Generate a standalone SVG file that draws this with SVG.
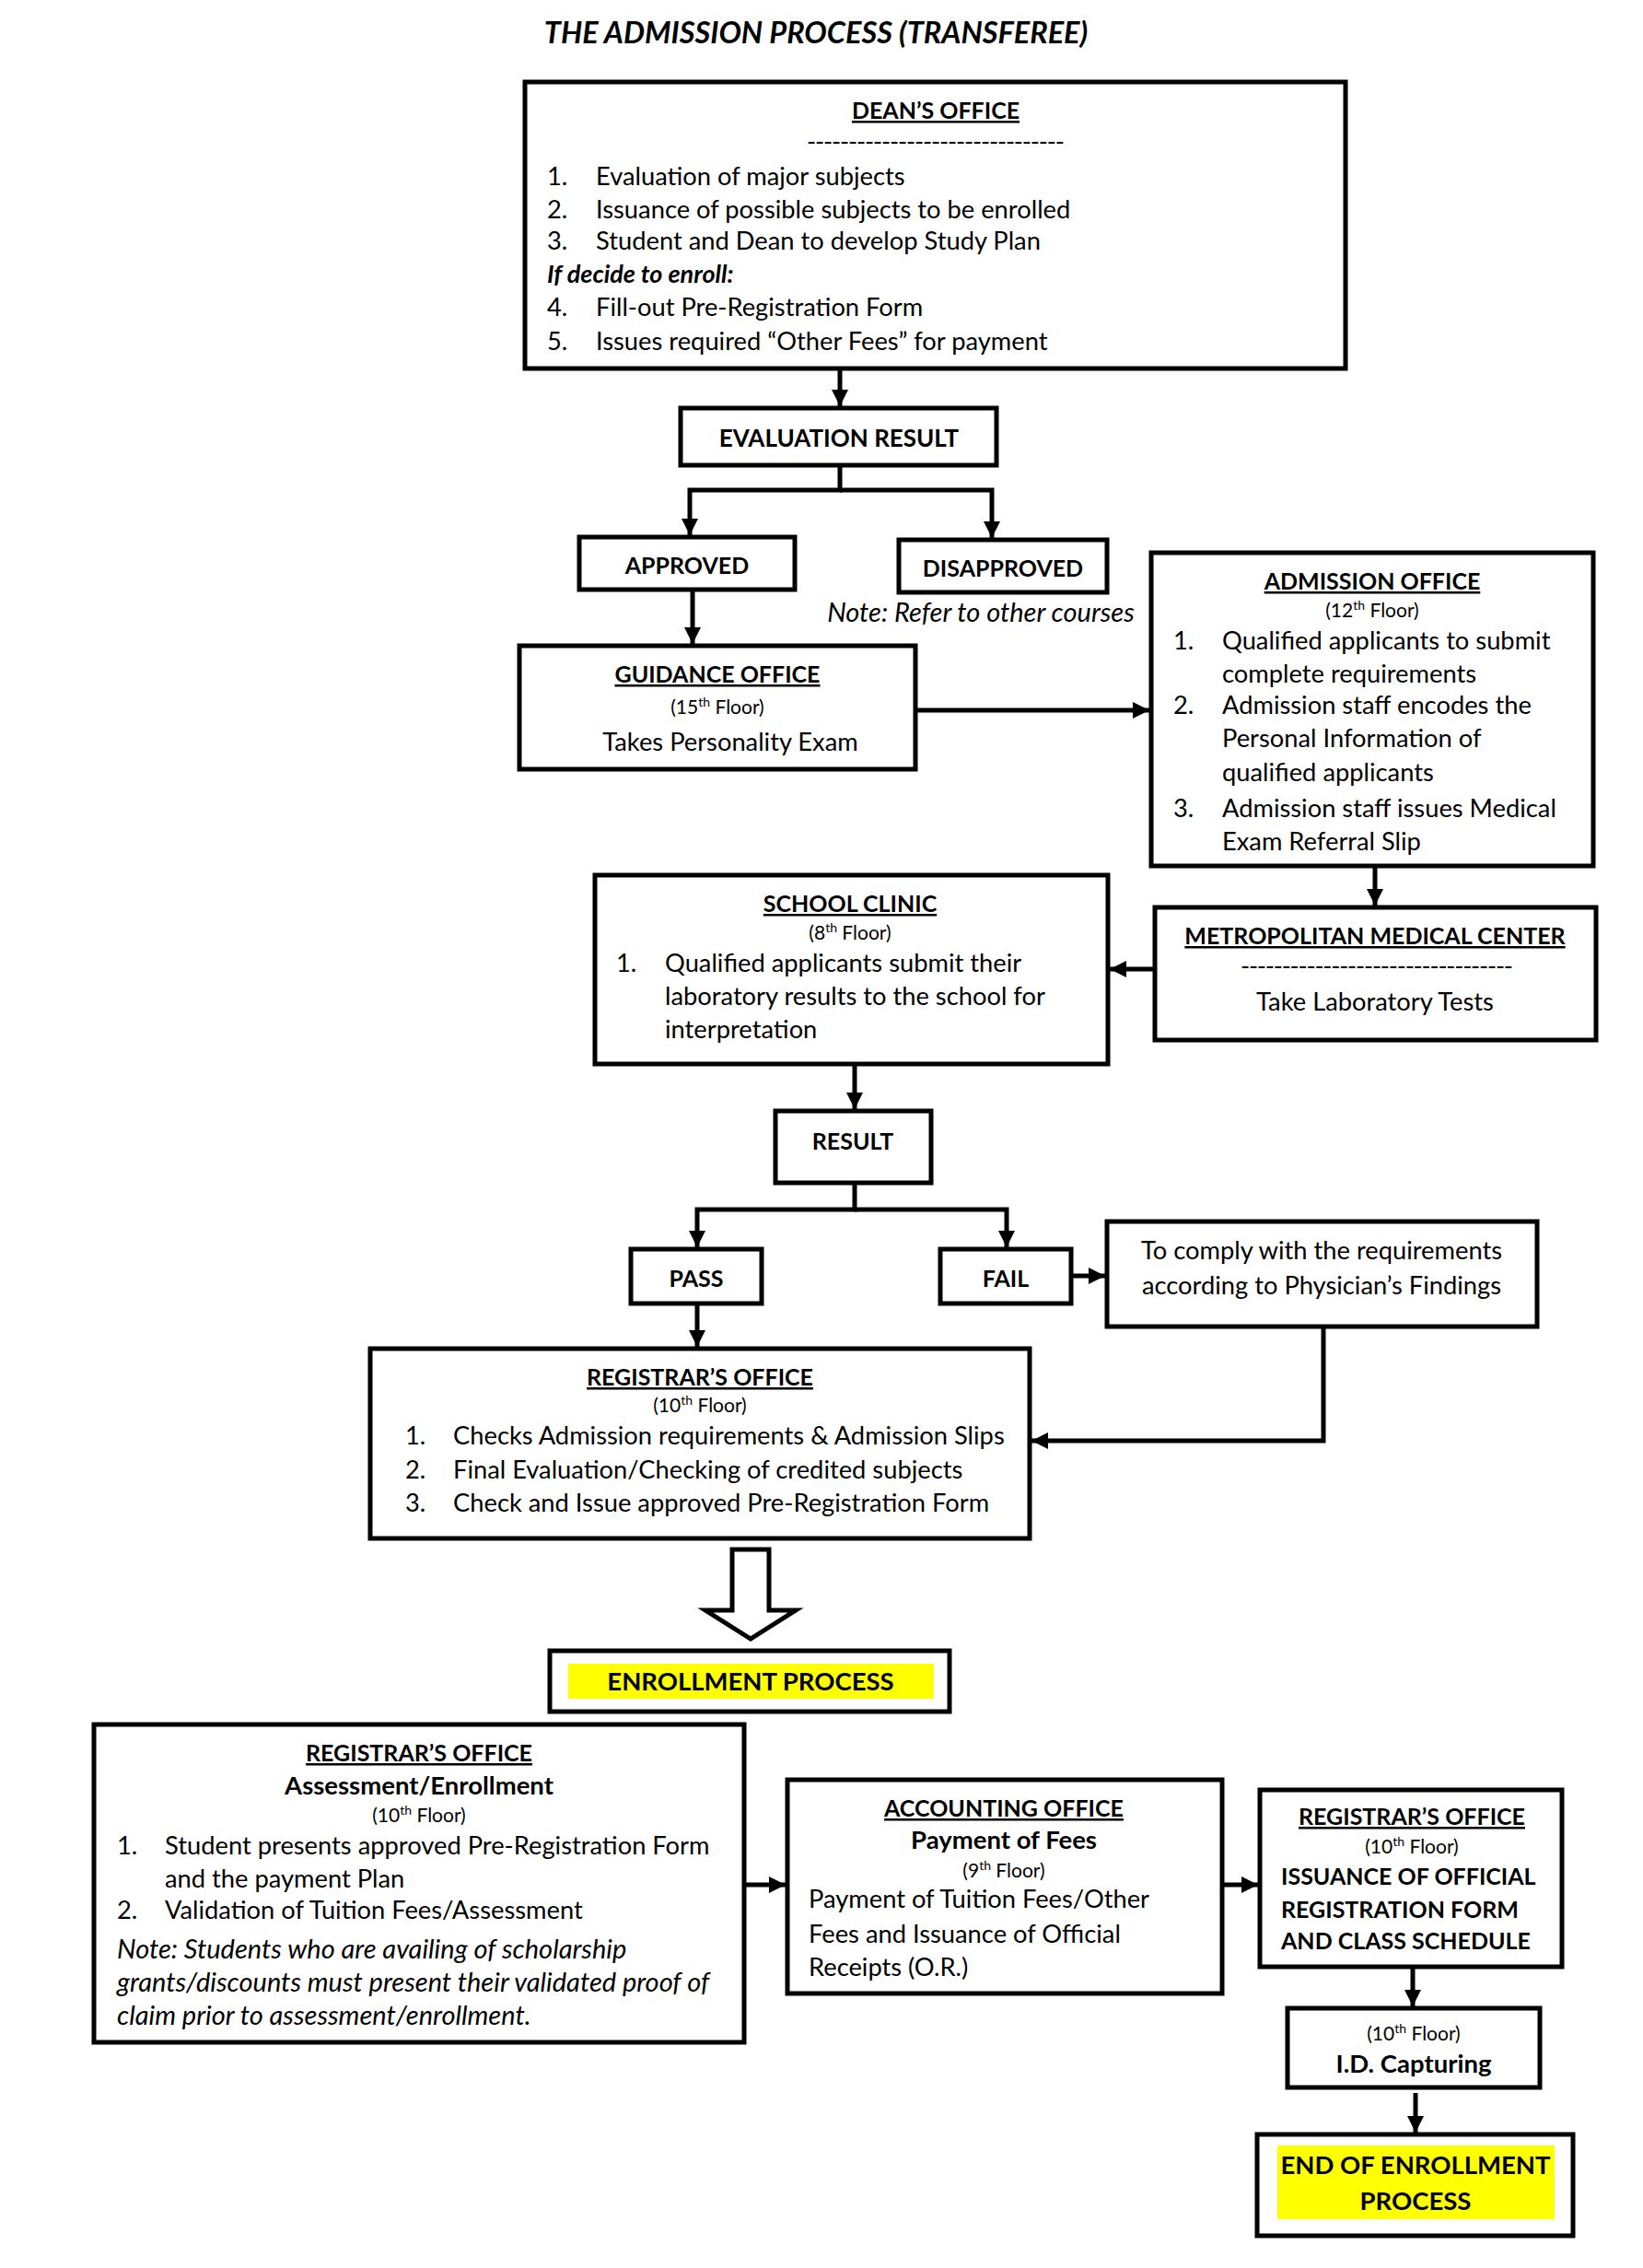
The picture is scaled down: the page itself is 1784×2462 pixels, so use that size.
<svg xmlns="http://www.w3.org/2000/svg" width="1784" height="2462" viewBox="0 0 1784 2462">
<style>
text{font-family:Lato,"Liberation Sans",sans-serif;font-size:27.3px;fill:#000}
.c{text-anchor:middle}
.b{font-weight:bold;font-size:25px}
.bb{font-weight:bold;font-size:27.5px}
.u{text-decoration:underline}
.i{font-style:italic;font-size:29px}
.bi{font-style:italic;font-weight:bold;font-size:27px}
.s{font-size:21px}
.box{fill:#fff;stroke:#000;stroke-width:5}
.ar{fill:none;stroke:#000;stroke-width:5;stroke-linejoin:miter;marker-end:url(#ah)}
.hl{fill:#ffff00}
</style>
<defs>
<marker id="ah" markerUnits="userSpaceOnUse" markerWidth="20" markerHeight="20" viewBox="0 0 20 20" refX="18" refY="10" orient="auto">
<path d="M0,1 L18,10 L0,19 Z" fill="#000"/>
</marker>
</defs>
<rect width="1784" height="2462" fill="#fff"/>
<text class="c" x="886" y="47" style="font-size:32.5px;font-weight:bold;font-style:italic">THE ADMISSION PROCESS (TRANSFEREE)</text>

<g id="connectors">
<path class="ar" d="M912,402 V441"/>
<path class="ar" d="M912,505 V532 H749 V581"/>
<path class="ar" d="M912,532 H1077 V584"/>
<path class="ar" d="M752,642 V699"/>
<path class="ar" d="M996,771 H1248"/>
<path class="ar" d="M1493,942 V983"/>
<path class="ar" d="M1252,1052 H1205"/>
<path class="ar" d="M928,1157 V1204"/>
<path class="ar" d="M928,1286 V1313 H757 V1354"/>
<path class="ar" d="M928,1313 H1093 V1354"/>
<path class="ar" d="M1165,1385 H1200"/>
<path class="ar" d="M757,1417 V1462"/>
<path class="ar" d="M1437,1442 V1564 H1120"/>
<polygon points="795,1682 835,1682 835,1748 864,1748 815,1779 766,1748 795,1748" fill="#fff" stroke="#000" stroke-width="5"/>
<path class="ar" d="M810,2046 H853"/>
<path class="ar" d="M1329,2046 H1366"/>
<path class="ar" d="M1534,2137 V2178"/>
<path class="ar" d="M1537,2272 V2315"/>
</g>

<g id="deans-office">
<rect class="box" x="570" y="89" width="891" height="311"/>
<text class="c b u" x="1016" y="129">DEAN’S OFFICE</text>
<text class="c" x="1016" y="163" textLength="280" lengthAdjust="spacing">-------------------------------</text>
<text x="594" y="201">1.</text><text x="647" y="201">Evaluation of major subjects</text>
<text x="594" y="237">2.</text><text x="647" y="237">Issuance of possible subjects to be enrolled</text>
<text x="594" y="271">3.</text><text x="647" y="271">Student and Dean to develop Study Plan</text>
<text class="bi" x="594" y="307">If decide to enroll:</text>
<text x="594" y="343">4.</text><text x="647" y="343">Fill-out Pre-Registration Form</text>
<text x="594" y="380">5.</text><text x="647" y="380">Issues required “Other Fees” for payment</text>
</g>

<g id="evaluation-result">
<rect class="box" x="739" y="443" width="343" height="62"/>
<text class="c b" x="911" y="485" style="font-size:26px">EVALUATION RESULT</text>
</g>

<g id="approved">
<rect class="box" x="629" y="583" width="234" height="57"/>
<text class="c b" x="746" y="623">APPROVED</text>
</g>

<g id="disapproved">
<rect class="box" x="976" y="586" width="226" height="57"/>
<text class="c b" x="1089" y="626">DISAPPROVED</text>
<text class="c i" x="1065" y="675">Note: Refer to other courses</text>
</g>

<g id="guidance-office">
<rect class="box" x="564" y="701" width="430" height="134"/>
<text class="c b u" x="779" y="741">GUIDANCE OFFICE</text>
<text class="c s" x="779" y="775">(15<tspan dy="-8" font-size="14">th</tspan><tspan dy="8"> Floor)</tspan></text>
<text class="c" x="793" y="815">Takes Personality Exam</text>
</g>

<g id="admission-office">
<rect class="box" x="1250" y="600" width="480" height="340"/>
<text class="c b u" x="1490" y="640">ADMISSION OFFICE</text>
<text class="c s" x="1490" y="670">(12<tspan dy="-8" font-size="14">th</tspan><tspan dy="8"> Floor)</tspan></text>
<text x="1274" y="705">1.</text><text x="1327" y="705">Qualified applicants to submit</text>
<text x="1327" y="741">complete requirements</text>
<text x="1274" y="775">2.</text><text x="1327" y="775">Admission staff encodes the</text>
<text x="1327" y="811">Personal Information of</text>
<text x="1327" y="848">qualified applicants</text>
<text x="1274" y="887">3.</text><text x="1327" y="887">Admission staff issues Medical</text>
<text x="1327" y="923">Exam Referral Slip</text>
</g>

<g id="metropolitan-medical-center">
<rect class="box" x="1254" y="985" width="479" height="144"/>
<text class="c b u" x="1493" y="1025">METROPOLITAN MEDICAL CENTER</text>
<text class="c" x="1495" y="1058" textLength="296" lengthAdjust="spacing">---------------------------------</text>
<text class="c" x="1493" y="1097">Take Laboratory Tests</text>
</g>

<g id="school-clinic">
<rect class="box" x="646" y="950" width="557" height="205"/>
<text class="c b u" x="923" y="990">SCHOOL CLINIC</text>
<text class="c s" x="923" y="1020">(8<tspan dy="-8" font-size="14">th</tspan><tspan dy="8"> Floor)</tspan></text>
<text x="669" y="1055">1.</text><text x="722" y="1055">Qualified applicants submit their</text>
<text x="722" y="1091">laboratory results to the school for</text>
<text x="722" y="1127">interpretation</text>
</g>

<g id="result">
<rect class="box" x="842" y="1206" width="169" height="78"/>
<text class="c b" x="926" y="1248">RESULT</text>
</g>

<g id="pass">
<rect class="box" x="685" y="1356" width="142" height="59"/>
<text class="c b" x="756" y="1397">PASS</text>
</g>

<g id="fail">
<rect class="box" x="1021" y="1356" width="142" height="59"/>
<text class="c b" x="1092" y="1397">FAIL</text>
</g>

<g id="comply">
<rect class="box" x="1202" y="1326" width="467" height="114"/>
<text class="c" x="1435" y="1367">To comply with the requirements</text>
<text class="c" x="1435" y="1405">according to Physician’s Findings</text>
</g>

<g id="registrars-office-1">
<rect class="box" x="402" y="1464" width="716" height="206"/>
<text class="c b u" x="760" y="1504">REGISTRAR’S OFFICE</text>
<text class="c s" x="760" y="1533">(10<tspan dy="-8" font-size="14">th</tspan><tspan dy="8"> Floor)</tspan></text>
<text x="440" y="1568">1.</text><text x="492" y="1568">Checks Admission requirements &amp; Admission Slips</text>
<text x="440" y="1605">2.</text><text x="492" y="1605">Final Evaluation/Checking of credited subjects</text>
<text x="440" y="1641">3.</text><text x="492" y="1641">Check and Issue approved Pre-Registration Form</text>
</g>

<g id="enrollment-process">
<rect class="box" x="597" y="1792" width="434" height="66"/>
<rect class="hl" x="617" y="1806" width="397" height="38"/>
<text class="c bb" x="815" y="1835">ENROLLMENT PROCESS</text>
</g>

<g id="registrars-office-2">
<rect class="box" x="102" y="1872" width="706" height="345"/>
<text class="c b u" x="455" y="1912">REGISTRAR’S OFFICE</text>
<text class="c bb" x="455" y="1948">Assessment/Enrollment</text>
<text class="c s" x="455" y="1978">(10<tspan dy="-8" font-size="14">th</tspan><tspan dy="8"> Floor)</tspan></text>
<text x="127" y="2013">1.</text><text x="179" y="2013">Student presents approved Pre-Registration Form</text>
<text x="179" y="2049">and the payment Plan</text>
<text x="127" y="2083">2.</text><text x="179" y="2083">Validation of Tuition Fees/Assessment</text>
<text class="i" x="127" y="2126">Note: Students who are availing of scholarship</text>
<text class="i" x="127" y="2162">grants/discounts must present their validated proof of</text>
<text class="i" x="127" y="2198">claim prior to assessment/enrollment.</text>
</g>

<g id="accounting-office">
<rect class="box" x="855" y="1932" width="472" height="232"/>
<text class="c b u" x="1090" y="1972">ACCOUNTING OFFICE</text>
<text class="c bb" x="1090" y="2007">Payment of Fees</text>
<text class="c s" x="1090" y="2038">(9<tspan dy="-8" font-size="14">th</tspan><tspan dy="8"> Floor)</tspan></text>
<text x="878" y="2071">Payment of Tuition Fees/Other</text>
<text x="878" y="2109">Fees and Issuance of Official</text>
<text x="878" y="2145">Receipts (O.R.)</text>
</g>

<g id="registrars-office-3">
<rect class="box" x="1368" y="1943" width="328" height="192"/>
<text class="c b u" x="1533" y="1981">REGISTRAR’S OFFICE</text>
<text class="c s" x="1533" y="2012">(10<tspan dy="-8" font-size="14">th</tspan><tspan dy="8"> Floor)</tspan></text>
<text class="b" x="1391" y="2046">ISSUANCE OF OFFICIAL</text>
<text class="b" x="1391" y="2082">REGISTRATION FORM</text>
<text class="b" x="1391" y="2116">AND CLASS SCHEDULE</text>
</g>

<g id="id-capturing">
<rect class="box" x="1398" y="2180" width="274" height="86"/>
<text class="c s" x="1535" y="2215">(10<tspan dy="-8" font-size="14">th</tspan><tspan dy="8"> Floor)</tspan></text>
<text class="c bb" x="1535" y="2250">I.D. Capturing</text>
</g>

<g id="end-of-enrollment">
<rect class="box" x="1365" y="2317" width="343" height="110"/>
<rect class="hl" x="1387" y="2329" width="301" height="80"/>
<text class="c bb" x="1537" y="2360">END OF ENROLLMENT</text>
<text class="c bb" x="1537" y="2399">PROCESS</text>
</g>
</svg>
